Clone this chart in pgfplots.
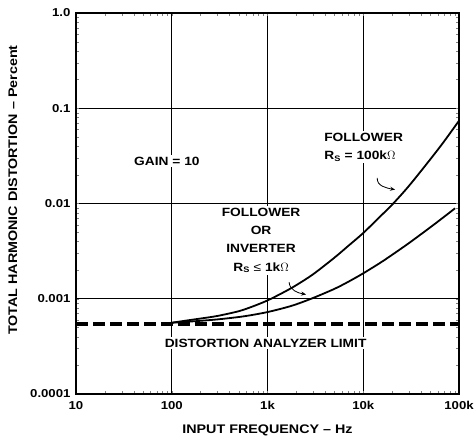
\documentclass[border=0pt]{standalone}
\usepackage{fontspec}
\setmainfont[FakeStretch=1.15]{Liberation Sans}
\usepackage{pgfplots}
\pgfplotsset{compat=1.18}
\usetikzlibrary{arrows.meta}

\begin{document}
\begin{tikzpicture}[font=\bfseries]
  \begin{axis}[
      at={(0,0)}, anchor=south west,
      scale only axis,
      width=383bp, height=381bp,
      xmode=log, ymode=log,
      xmin=10, xmax=1e5,
      ymin=1e-4, ymax=1,
      xtick={10,100,1000,10000,100000},
      xticklabels={10,100,1k,10k,100k},
      ytick={1e-4,1e-3,1e-2,1e-1,1},
      yticklabels={0.0001,0.001,0.01,0.1,1.0},
      minor tick num=0,
      major tick length=0pt,
      grid=major,
      major grid style={black, line width=0.6bp},
      axis line style={black, line width=1.3bp},
      tick label style={font=\fontsize{11.5}{13}\selectfont\bfseries},
      xticklabel style={yshift=-4bp},
      yticklabel style={xshift=-2bp},
      label style={font=\fontsize{12.5}{14}\selectfont\bfseries},
      xlabel={INPUT FREQUENCY -- Hz},
      ylabel={TOTAL HARMONIC DISTORTION -- Percent},
      xlabel style={at={(axis description cs:0.5,0)}, anchor=center, yshift=-36bp},
      ylabel style={at={(axis description cs:-0.165,0.535)}, anchor=center, rotate=0},
      clip=false,
    ]
    % analyzer limit
    \addplot[black, line width=3.6bp, dash pattern=on 12bp off 5bp] coordinates {
      (10,0.00054) (100000,0.00054)
    };
    % follower, Rs = 100k
    \addplot[black, line width=1.8bp, smooth, tension=0.5] coordinates {
      (100,0.00056) (150,0.000595) (200,0.00062) (300,0.00066)
      (500,0.00074) (700,0.00083) (1000,0.00096) (1500,0.00118)
      (2000,0.00139) (3000,0.00181) (5000,0.0027) (7000,0.0036)
      (10000,0.0049) (15000,0.0073) (20000,0.0097) (30000,0.0153)
      (50000,0.0290) (70000,0.0450) (100000,0.074)
    };
    % follower or inverter, Rs <= 1k
    \addplot[black, line width=1.8bp, smooth, tension=0.5] coordinates {
      (100,0.00056) (150,0.000575) (200,0.000587) (300,0.000607)
      (500,0.000643) (700,0.000677) (1000,0.000725) (1500,0.000802)
      (2000,0.000875) (3000,0.00102) (5000,0.00127) (7000,0.00151)
      (10000,0.00185) (15000,0.00238) (20000,0.00289) (30000,0.00384)
      (50000,0.00561) (70000,0.00726) (91000,0.00891)
    };

    \begin{scope}[every node/.style={font=\fontsize{12}{18}\selectfont\bfseries, fill=white, inner sep=2bp}]
      \node at (axis cs:89,0.028) {GAIN = 10};
      \node[align=left, anchor=west] at (axis cs:3720,0.039)
        {FOLLOWER\\R\textsubscript{S} = 100k\(\Omega\)};
      \node[align=center] at (axis cs:857,0.0041)
        {FOLLOWER\\OR\\INVERTER\\[1bp]R\textsubscript{S} {\mdseries\char"2264} 1k\(\Omega\)};
      \node at (axis cs:955,0.000344) {DISTORTION ANALYZER LIMIT};
    \end{scope}

    \draw[-{Stealth[length=5bp,width=4bp]}, line width=0.8bp]
      (axis cs:14000,0.0186) to[out=-95,in=170] (axis cs:21500,0.014);
    \draw[-{Stealth[length=5bp,width=4bp]}, line width=0.8bp]
      (axis cs:1680,0.00149) to[out=-85,in=170] (axis cs:2530,0.00111);
  \end{axis}
  \pgfresetboundingbox
  \path (-76bp,-48bp) rectangle (399bp,394bp);
\end{tikzpicture}
\end{document}
